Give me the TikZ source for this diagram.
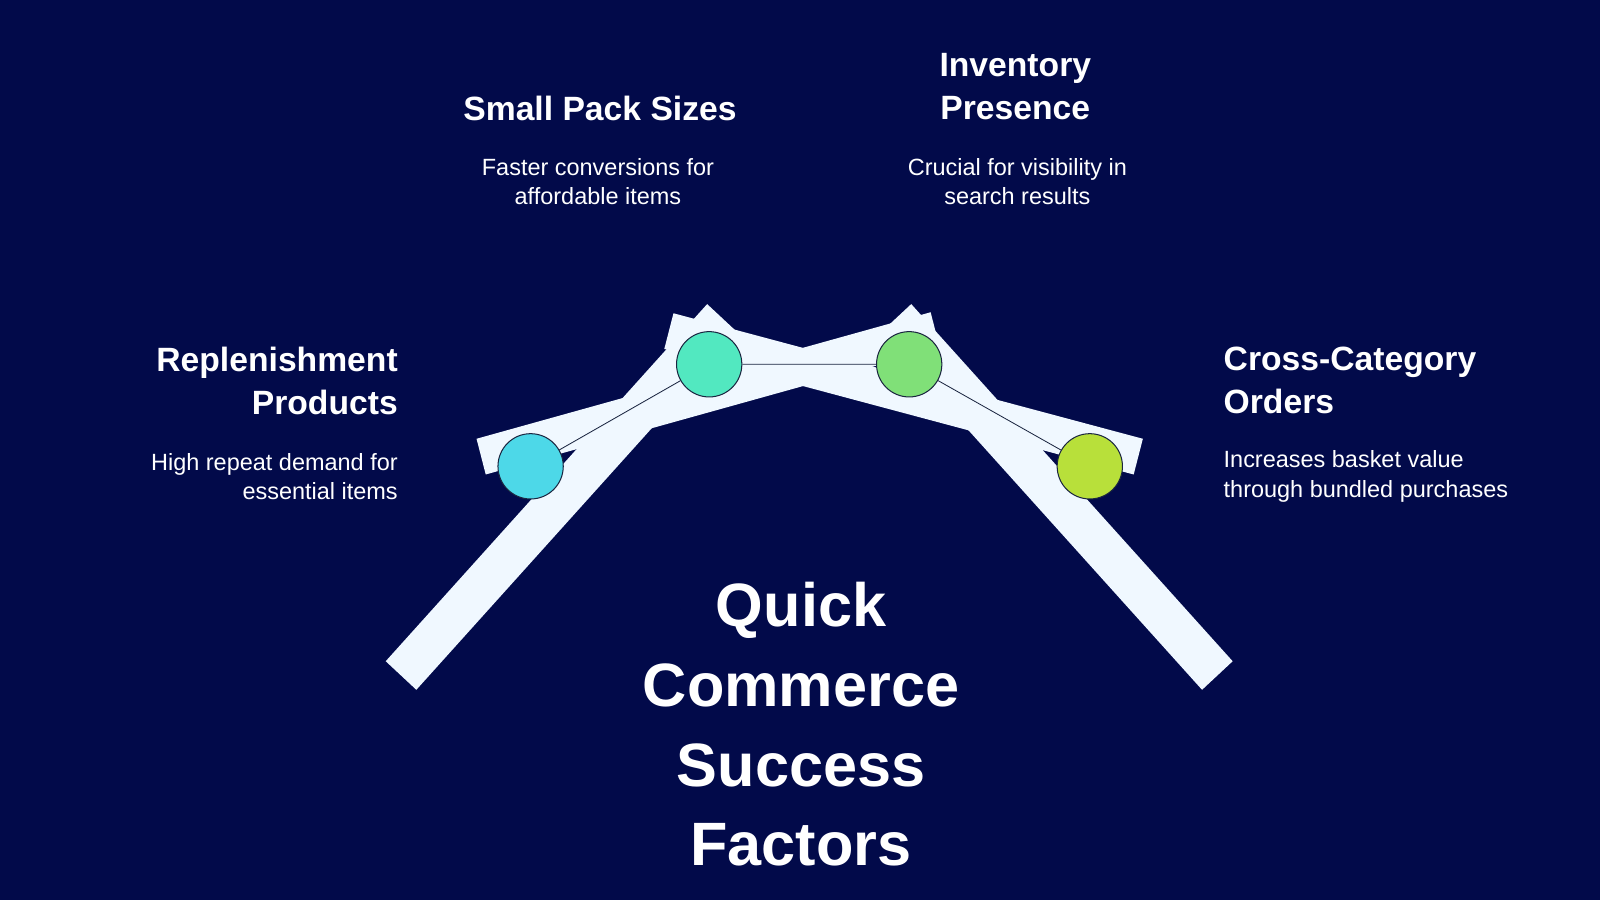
\documentclass[tikz,border=0pt]{standalone}
\usepackage{fontspec}
\setmainfont{Liberation Sans}
\definecolor{bgnavy}{HTML}{020A4A}
\definecolor{beam}{HTML}{F0F8FF}
\definecolor{rim}{HTML}{1A2540}
\definecolor{cblue}{HTML}{4DD8E8}
\definecolor{cteal}{HTML}{52E8C0}
\definecolor{cgreen}{HTML}{80E078}
\definecolor{clime}{HTML}{B8E03A}
\tikzset{
  head/.style={text=white, font=\fontsize{33}{42}\selectfont\bfseries, align=#1, inner sep=0pt},
  desc/.style={text=white, font=\fontsize{23}{29}\selectfont, align=#1, inner sep=0pt},
  joint/.style={circle, draw=rim, line width=1pt, minimum size=64pt, inner sep=0pt, fill=#1},
}
\begin{document}
\begin{tikzpicture}[x=1pt,y=-1pt]

  \fill[bgnavy] (0,0) rectangle (1568,882);
  \useasboundingbox (0,0) rectangle (1568,882);

  %% beams
  \fill[beam] (378,648) -- (693,298) -- (723,326) -- (408,676) -- cycle; %% left arm
  \fill[beam] (1208,648) -- (893,298) -- (863,326) -- (1178,676) -- cycle; %% right arm
  \fill[beam] (467,430) -- (912,306) -- (921,341) -- (476,465) -- cycle; %% bar up
  \fill[beam] (660,307) -- (1120,430) -- (1111,465) -- (651,342) -- cycle; %% bar down

  %% joints
  \node[joint=cblue]  (repl)  at (520,457) {};
  \node[joint=cteal]  (pack)  at (695,357) {};
  \node[joint=cgreen] (inv)   at (891,357) {};
  \node[joint=clime]  (cross) at (1068,457) {};
  \draw[rim, line width=0.8pt] (repl) -- (pack) -- (inv) -- (cross);

  %% labels
  \node[head=center] (packH) at (588,106) {Small Pack Sizes};
  \node[desc=center] (packD) at (586,178) {Faster conversions for\\affordable items};
  \node[head=center] (invH)  at (995,85)  {Inventory\\Presence};
  \node[desc=center] (invD)  at (997,178) {Crucial for visibility in\\search results};
  \node[head=right, anchor=east] (replH) at (390,373) {Replenishment\\Products};
  \node[desc=right, anchor=east] (replD) at (390,467) {High repeat demand for\\essential items};
  \node[head=left, anchor=west] (crossH) at (1199,373) {Cross-Category\\Orders};
  \node[desc=left, anchor=west] (crossD) at (1199,467) {Increases basket value\\through bundled purchases};

  %% title
  \node[text=white, font=\fontsize{60}{78}\selectfont\bfseries, align=center, inner sep=0pt]
    (title) at (785,710) {Quick\\Commerce\\Success\\Factors};

\end{tikzpicture}
\end{document}
